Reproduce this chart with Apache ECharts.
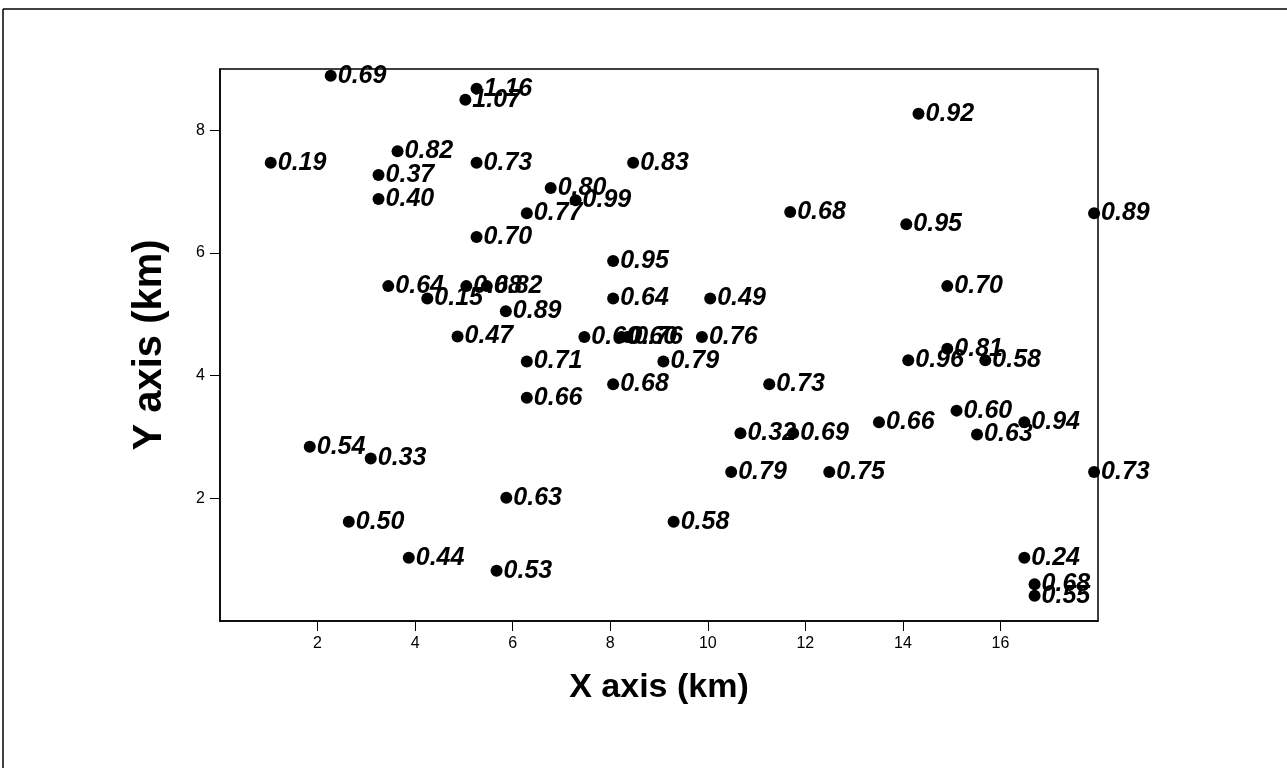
<!DOCTYPE html>
<html>
<head>
<meta charset="utf-8">
<script src="https://cdn.jsdelivr.net/npm/echarts@6/dist/echarts.min.js"></script>
<style>
  html, body { margin: 0; padding: 0; background: #fff; }
  #chart { width: 1287px; height: 768px; }
</style>
</head>
<body>
<div id="chart"></div>
<script>
// 观测点坐标 (km) 和数值
var xs = [2.27, 5.26, 5.03, 1.04, 3.64, 3.25, 3.25, 5.26, 6.78, 6.29,
          7.29, 8.47, 5.26, 11.69, 14.32, 14.07, 17.92, 8.06, 3.45, 4.25,
          5.05, 5.47, 5.86, 4.87, 8.06, 10.05, 7.47, 8.23, 8.35, 9.88,
          6.29, 9.09, 8.06, 6.29, 11.26, 10.67, 11.75, 13.51, 15.10, 15.52,
          16.49, 14.91, 14.91, 14.11, 15.69, 1.84, 3.09, 2.64, 3.87, 5.67,
          5.87, 9.30, 10.48, 12.49, 17.92, 16.49, 16.70, 16.70];
var ys = [8.89, 8.68, 8.50, 7.47, 7.66, 7.27, 6.88, 7.47, 7.06, 6.65,
          6.86, 7.47, 6.26, 6.67, 8.27, 6.47, 6.65, 5.87, 5.46, 5.26,
          5.46, 5.46, 5.05, 4.64, 5.26, 5.26, 4.63, 4.63, 4.63, 4.63,
          4.23, 4.23, 3.86, 3.64, 3.86, 3.06, 3.06, 3.24, 3.43, 3.04,
          3.24, 5.46, 4.44, 4.25, 4.25, 2.84, 2.65, 1.62, 1.03, 0.82,
          2.01, 1.62, 2.43, 2.43, 2.43, 1.03, 0.60, 0.41];
var vals = [0.69, 1.16, 1.07, 0.19, 0.82, 0.37, 0.40, 0.73, 0.80, 0.77,
            0.99, 0.83, 0.70, 0.68, 0.92, 0.95, 0.89, 0.95, 0.64, 0.15,
            0.68, 0.82, 0.89, 0.47, 0.64, 0.49, 0.60, 0.60, 0.76, 0.76,
            0.71, 0.79, 0.68, 0.66, 0.73, 0.32, 0.69, 0.66, 0.60, 0.63,
            0.94, 0.70, 0.81, 0.96, 0.58, 0.54, 0.33, 0.50, 0.44, 0.53,
            0.63, 0.58, 0.79, 0.75, 0.73, 0.24, 0.68, 0.55];

var xTicks = [2, 4, 6, 8, 10, 12, 14, 16];
var yTicks = [2, 4, 6, 8];

var points = xs.map(function (x, i) {
    return [x, ys[i], vals[i]];
});

var axisFont = 'Liberation Sans, Arial, sans-serif';

function valueAxis(min, max, ticks, name, nameGap, nameSize) {
    return {
        type: 'value',
        min: min,
        max: max,
        name: name,
        nameLocation: 'middle',
        nameGap: nameGap,
        nameTextStyle: {
            color: '#000',
            fontFamily: axisFont,
            fontWeight: 'bold',
            fontSize: nameSize
        },
        splitLine: { show: false },
        axisLine: { show: true, onZero: false, lineStyle: { color: '#000', width: 1.5 } },
        axisTick: {
            show: true,
            inside: false,
            length: 10,
            customValues: ticks,
            lineStyle: { color: '#000', width: 1 }
        },
        axisLabel: {
            show: true,
            customValues: ticks,
            color: '#000',
            fontFamily: axisFont,
            fontSize: 16,
            margin: 15
        }
    }
}

var option = {
    backgroundColor: '#fff',
    animation: false,
    graphic: [
        { type: 'line', shape: { x1: 3, y1: 9, x2: 1287, y2: 9 }, style: { stroke: '#000', lineWidth: 1.5 } },
        { type: 'line', shape: { x1: 3, y1: 9, x2: 3, y2: 768 }, style: { stroke: '#000', lineWidth: 1.5 } }
    ],
    grid: {
        left: 220,
        top: 69,
        right: 189,
        bottom: 147,
        show: true,
        borderColor: '#000',
        borderWidth: 1.5,
        backgroundColor: '#fff'
    },
    xAxis: valueAxis(0, 18, xTicks, 'X axis (km)', 50, 34),
    yAxis: valueAxis(0, 9, yTicks, 'Y axis (km)', 50, 40),
    series: [
        {
            type: 'scatter',
            data: points,
            symbol: 'circle',
            symbolSize: 12,
            clip: false,
            itemStyle: { color: '#000', opacity: 1 },
            label: {
                show: true,
                position: 'right',
                distance: 1,
                color: '#000',
                fontFamily: axisFont,
                fontStyle: 'italic',
                fontWeight: 'bold',
                fontSize: 25,
                formatter: function (p) {
                    return p.value[2].toFixed(2);
                }
            },
            emphasis: { disabled: true }
        }
    ]
};

var chart = echarts.init(document.getElementById('chart'));
chart.setOption(option);
</script>
</body>
</html>
